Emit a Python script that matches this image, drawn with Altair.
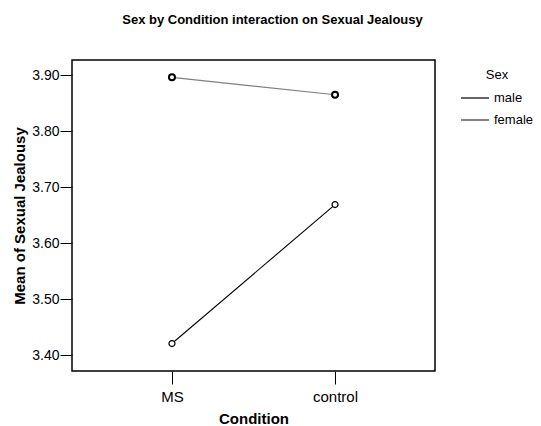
import altair as alt
import pandas as pd

conditions = ["MS", "control"]
sexes = ["male", "female"]
male_means = [3.421, 3.669]
female_means = [3.896, 3.865]
y_ticks = [3.40, 3.50, 3.60, 3.70, 3.80, 3.90]
sex_colors = ["#000000", "#808080"]

rows = []
for c, m, f in zip(conditions, male_means, female_means):
    rows.append({"Condition": c, "Sex": "male", "Mean": m})
    rows.append({"Condition": c, "Sex": "female", "Mean": f})
df = pd.DataFrame(rows)

FONT = "Liberation Sans"

x = alt.X(
    "Condition:N",
    sort=conditions,
    scale=alt.Scale(type="point", padding=0.613),
    axis=alt.Axis(
        title="Condition", labelAngle=0, domain=False, tickSize=13, tickColor="black",
        labelPadding=5, titlePadding=7, labelFontSize=15, titleFontSize=15,
        labelColor="black", titleColor="black",
    ),
)
y = alt.Y(
    "Mean:Q",
    scale=alt.Scale(domain=[3.372, 3.927], nice=False, zero=False),
    axis=alt.Axis(
        title="Mean of Sexual Jealousy", values=y_ticks, format=".2f", domain=False,
        grid=False, tickSize=12, tickColor="black", labelPadding=1, titlePadding=4,
        labelFontSize=14, titleFontSize=15, labelColor="black", titleColor="black",
    ),
)

lines = alt.Chart(df).mark_line(strokeWidth=1.1).encode(
    x=x, y=y,
    color=alt.Color(
        "Sex:N",
        scale=alt.Scale(domain=sexes, range=sex_colors),
        legend=alt.Legend(
            title="Sex", orient="none", legendX=388, legendY=9, symbolType="stroke",
            symbolSize=784, symbolStrokeWidth=1.2, labelFontSize=13, titleFontSize=13,
            titleFontWeight="normal", labelOffset=4, rowPadding=-14, titleAnchor="middle",
            titlePadding=1, labelColor="black", titleColor="black",
        ),
    ),
)

points = alt.Chart(df).mark_point(shape="circle", size=36, filled=False, fill="white",
                                  color="black", opacity=1).encode(
    x=x, y=y,
    strokeWidth=alt.StrokeWidth("Sex:N", scale=alt.Scale(domain=sexes, range=[1.2, 2.0]), legend=None),
)

chart = (lines + points).properties(
    width=363, height=311,
    title=alt.TitleParams(
        "Sex by Condition interaction on Sexual Jealousy", fontSize=13, fontWeight="bold",
        font=FONT, offset=33, dx=19, color="black",
    ),
    autosize=alt.AutoSizeParams(type="none"),
    padding={"left": 64, "top": 52, "right": 98, "bottom": 55},
).configure(font=FONT).configure_view(stroke="black", strokeWidth=1.5)

chart.save("out.html", embed_options={"renderer": "svg", "actions": False})
